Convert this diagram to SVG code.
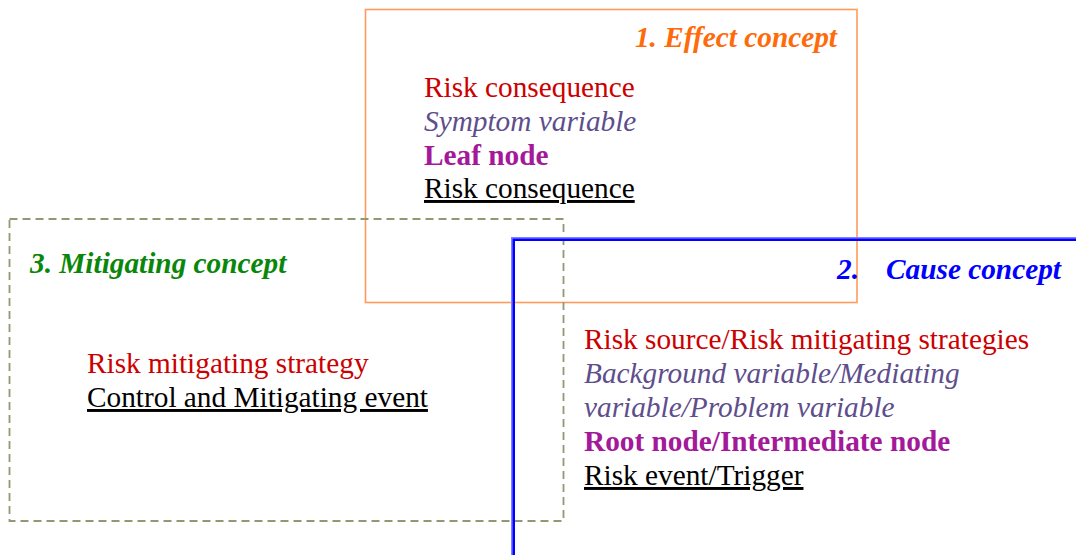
<svg xmlns="http://www.w3.org/2000/svg" width="1076" height="555" viewBox="0 0 1076 555">
  <style>
    text { font-family: "Liberation Serif", "Times New Roman", serif; font-size: 29.3px; }
    .title { font-size: 29.3px; font-weight: bold; font-style: italic; }
    .red { fill: #CC0000; }
    .var { fill: #5E4E8C; font-style: italic; }
    .node { fill: #A3199A; font-weight: bold; }
    .evt { fill: #000000; text-decoration: underline; }
  </style>
  <rect width="1076" height="555" fill="#FFFFFF"/>

  <!-- 1. Effect concept -->
  <g id="effect-concept">
    <rect x="365.5" y="9.5" width="491.5" height="293" fill="none" stroke="#FF9A5C" stroke-width="1.6"/>
    <text class="title" x="837" y="47" text-anchor="end" fill="#FF6A0A">1. Effect concept</text>
    <text class="red" x="424" y="97">Risk consequence</text>
    <text class="var" x="424" y="131">Symptom variable</text>
    <text class="node" x="424" y="165">Leaf node</text>
    <text class="evt" x="424" y="198">Risk consequence</text>
  </g>

  <!-- 3. Mitigating concept -->
  <g id="mitigating-concept">
    <rect x="9.5" y="219" width="554" height="302" fill="none" stroke="#8E9A72" stroke-width="1.8" stroke-dasharray="8 5"/>
    <text class="title" x="30" y="273" fill="#0A870A">3. Mitigating concept</text>
    <text class="red" x="87" y="373">Risk mitigating strategy</text>
    <text class="evt" x="87" y="407">Control and Mitigating event</text>
  </g>

  <!-- 2. Cause concept -->
  <g id="cause-concept">
    <rect x="512.8" y="238.8" width="600" height="400" fill="none" stroke="#8080FF" stroke-width="3.6"/>
    <rect x="513.8" y="239.8" width="600" height="400" fill="none" stroke="#0000FF" stroke-width="2.4"/>
    <text class="title" x="837" y="279" fill="#0000FF">2.</text>
    <text class="title" x="886" y="279" fill="#0000FF">Cause concept</text>
    <text class="red" x="584" y="349">Risk source/Risk mitigating strategies</text>
    <text class="var" x="584" y="383">Background variable/Mediating</text>
    <text class="var" x="584" y="417">variable/Problem variable</text>
    <text class="node" x="584" y="451">Root node/Intermediate node</text>
    <text class="evt" x="584" y="485">Risk event/Trigger</text>
  </g>

  <!-- no connectors in this figure -->
  <g id="connectors"/>
</svg>
